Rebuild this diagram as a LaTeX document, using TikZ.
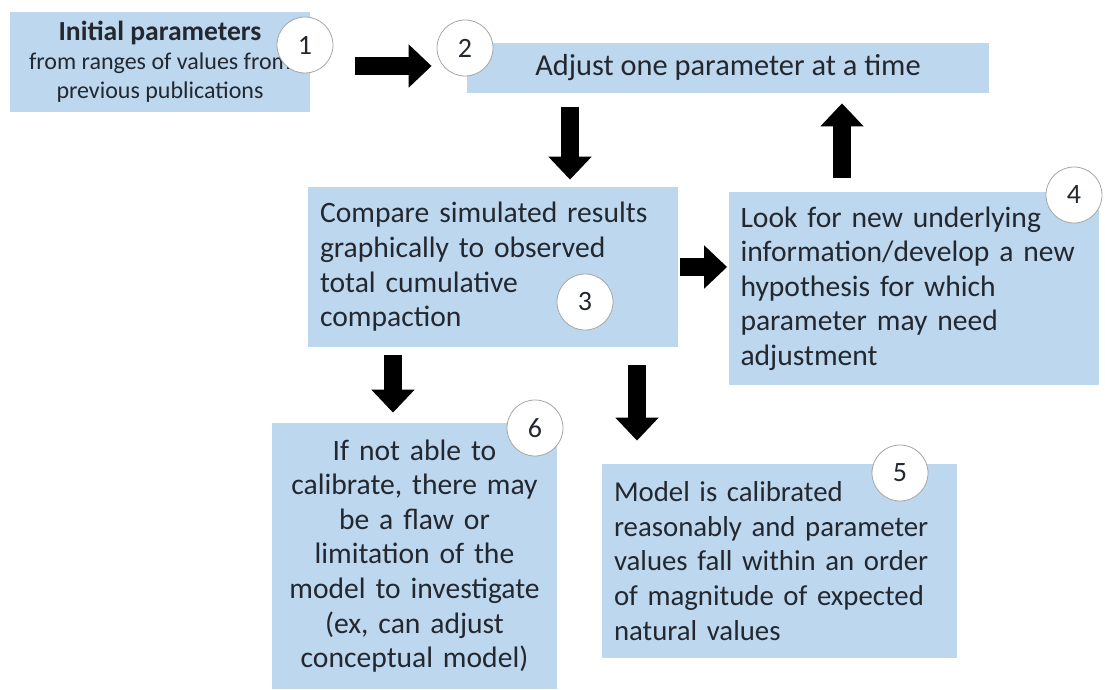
\documentclass[tikz,border=0pt]{standalone}
\usepackage{fontspec}
\setmainfont{Carlito}
\usetikzlibrary{arrows.meta}
\definecolor{boxblue}{RGB}{189,215,238}
\definecolor{txtgray}{RGB}{35,40,48}

\begin{document}
\begin{tikzpicture}[x=0.5pt, y=-0.5pt,
  box/.style={fill=boxblue, inner ysep=0pt, inner xsep=6pt, text=txtgray, font=\fontsize{14.8}{17.3}\selectfont},
  num/.style={circle, draw=gray!70, fill=white, minimum size=28pt, inner sep=0pt, text=txtgray, font=\fontsize{14}{16}\selectfont},
  blk/.style={line width=9pt, -{Triangle[width=21pt, length=11.5pt]}}]
  \useasboundingbox (0,0) rectangle (1105,690);
  \node[box, minimum width=150pt, minimum height=50pt, align=center, font=\fontsize{12}{14.5}\selectfont] (b1) at (160,62) {{\bfseries\fontsize{13.8}{14.5}\selectfont Initial parameters}\\from ranges of values from\\previous publications};
  \node[box, minimum width=261pt, minimum height=25pt, font=\fontsize{15.2}{17.3}\selectfont] (b2) at (728,68) {Adjust one parameter at a time};
  \node[box, minimum height=80pt, text width=173pt, align=left] (b3) at (493,267) {Compare simulated results\\graphically to observed\\total cumulative\\compaction};
  \node[box, minimum height=96.5pt, text width=173pt, align=left] (b4) at (913.5,288.5) {Look for new underlying\\information/develop a new\\hypothesis for which\\parameter may need\\adjustment};
  \node[box, minimum height=97pt, text width=165.5pt, align=left, font=\fontsize{14.4}{17.3}\selectfont] (b5) at (779.5,561) {Model is calibrated\\reasonably and parameter\\values fall within an order\\of magnitude of expected\\natural values};
  \node[box, minimum height=133pt, text width=130.5pt, align=center] (b6) at (414.5,556) {If not able to\\calibrate, there may\\be a flaw or\\limitation of the\\model to investigate\\(ex, can adjust\\conceptual model)};
  \node[num] (c1) at (305,45) {1};
  \node[num] (c2) at (465,48) {2};
  \node[num] (c3) at (585,302) {3};
  \node[num] (c4) at (1074,195) {4};
  \node[num] (c5) at (900,473) {5};
  \node[num] (c6) at (535,428) {6};
  \coordinate (p12) at (0,66);
  \coordinate (p23) at (570,0);
  \coordinate (p42) at (842,0);
  \coordinate (p36) at (393,0);
  \coordinate (p35) at (637,0);
  \draw[blk, shorten <=22.5pt, shorten >=17.5pt] (b1.east |- p12) -- (b2.west |- p12);
  \draw[blk, shorten <=7pt, shorten >=3.5pt] (b2.south -| p23) -- (b3.north -| p23);
  \draw[blk, shorten <=1pt, shorten >=0.5pt] (b3.east) -- (b3.east -| b4.west);
  \draw[blk, shorten <=7pt, shorten >=5pt] (b4.north -| p42) -- (b2.south -| p42);
  \draw[blk, shorten <=4pt, shorten >=5pt] (b3.south -| p36) -- (b6.north -| p36);
  \draw[blk, shorten <=9pt, shorten >=11.5pt] (b3.south -| p35) -- (b5.north -| p35);
\end{tikzpicture}
\end{document}
